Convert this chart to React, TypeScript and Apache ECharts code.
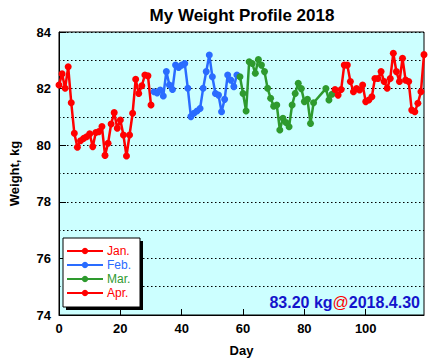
import React, { useEffect, useRef } from "react";
import * as echarts from "echarts";

const FONT = "'Liberation Sans', Arial, Helvetica, sans-serif";

const monthNames = ["Jan.", "Feb.", "Mar.", "Apr."];
const monthStartDays = [0, 31, 59, 90];
const monthColors = ["#ff0000", "#2a6cff", "#2e9a2e", "#ff0000"];

const janKg = [82.13, 82.52, 82.01, 82.77, 81.5, 80.42, 79.93, 80.16, 80.24, 80.3,
  80.4, 79.95, 80.45, 80.48, 80.66, 79.64, 80.07, 80.75, 81.15, 80.6,
  80.89, 80.36, 79.62, 80.36, 81.13, 82.33, 81.83, 82.1, 82.48, 82.45,
  81.42];
const febKg = [81.89, 81.85, 81.95, 81.74, 82.6, 82.13, 81.97, 82.83, 82.75, 82.83,
  82.89, 82.01, 81.01, 81.13, 81.21, 81.3, 82.01, 82.6, 83.19, 82.42,
  81.83, 81.77, 81.18, 81.62, 82.48, 82.3, 82.07, 82.48];
const marKg = [82.42, 81.83, 81.21, 82.95, 82.89, 82.54, 83.03, 82.83, 82.6, 82.01,
  81.66, 81.38, 81.42, 80.54, 80.95, 80.8, 80.65, 81.42, 81.83, 82.19,
  82.0, 81.54, 81.62, 80.77, 81.5, null, null, null, 82.0, 81.6,
  81.8];
const aprKg = [81.97, 81.77, 81.97, 82.83, 82.83, 82.25, 81.89, 82.0, 81.95, 82.13,
  81.54, 81.6, 81.71, 82.36, 82.36, 82.6, 82.25, 82.01, 82.36, 83.25,
  82.6, 82.25, 83.07, 82.3, 82.25, 81.24, 81.18, 81.48, 81.89, 83.2];

const monthValues = [janKg, febKg, marKg, aprKg];

const xTicks = { min: 0, max: 119, interval: 20 };
const yTicks = { min: 74, max: 84, interval: 2 };

const latestKg = "83.20 kg";
const latestDate = "2018.4.30";

export default function App() {
  const ref = useRef<HTMLDivElement>(null);
  useEffect(() => {
    if (!ref.current) return;
    const chart = echarts.init(ref.current, null, { renderer: "svg" });
    const series = monthValues.map((vals, m) => ({
      name: monthNames[m],
      type: "line",
      data: vals
        .map((v, i) => (v == null ? null : [monthStartDays[m] + i, v]))
        .filter((d) => d !== null),
      symbol: "circle",
      symbolSize: 7,
      showSymbol: true,
      lineStyle: { color: monthColors[m], width: 2.5 },
      itemStyle: { color: monthColors[m] },
      z: 3,
    }));
    chart.setOption({
      animation: false,
      backgroundColor: "#ffffff",
      textStyle: { fontFamily: FONT },
      title: {
        text: "My Weight Profile 2018",
        left: 237,
        top: 2,
        textAlign: "center",
        textStyle: { fontFamily: FONT, fontSize: 17, fontWeight: "bold", color: "#000" },
      },
      grid: {
        left: 55,
        right: 5,
        top: 32,
        bottom: 49,
        show: true,
        backgroundColor: "#ccffff",
        borderColor: "#000",
        borderWidth: 1,
      },
      xAxis: {
        type: "value",
        min: xTicks.min,
        max: xTicks.max,
        interval: xTicks.interval,
        name: "Day",
        nameLocation: "middle",
        nameGap: 29,
        nameTextStyle: { fontFamily: FONT, fontSize: 13, fontWeight: "bold", color: "#000" },
        axisLine: { show: true, lineStyle: { color: "#000", width: 1 } },
        axisTick: { show: true, inside: true, length: 6, lineStyle: { color: "#000" } },
        axisLabel: { fontFamily: FONT, fontSize: 13, fontWeight: "bold", color: "#000", margin: 7, showMaxLabel: false },
        splitLine: { show: false },
      },
      yAxis: {
        type: "value",
        min: yTicks.min,
        max: yTicks.max,
        interval: yTicks.interval,
        name: "Weight, kg",
        nameLocation: "middle",
        nameGap: 38,
        nameTextStyle: { fontFamily: FONT, fontSize: 13, fontWeight: "bold", color: "#000" },
        axisLine: { show: true, lineStyle: { color: "#000", width: 1 } },
        axisTick: { show: true, inside: true, length: 7, lineStyle: { color: "#000" } },
        axisLabel: { fontFamily: FONT, fontSize: 13, fontWeight: "bold", color: "#000", margin: 8 },
        splitLine: { show: true, lineStyle: { color: "#000", type: [1.5, 2.5], width: 1.2 } },
        minorTick: { show: false, splitNumber: 2 },
        minorSplitLine: { show: true, lineStyle: { color: "#000", type: [1.5, 2.5], width: 1.2 } },
      },
      legend: {
        orient: "vertical",
        left: 66,
        top: 244,
        padding: 0,
        itemWidth: 36,
        itemHeight: 8,
        itemGap: 0,
        z: 60,
        data: monthNames.map((n, m) => ({ name: n, textStyle: { color: monthColors[m] } })),
        textStyle: { fontFamily: FONT, fontSize: 12, lineHeight: 14, padding: [0, 0, 0, -1] },
      },
      graphic: [
        {
          type: "rect",
          z: 50,
          shape: { x: 66, y: 241, width: 77, height: 69 },
          style: { fill: "#000" },
        },
        {
          type: "rect",
          z: 51,
          shape: { x: 63, y: 238, width: 77, height: 69 },
          style: { fill: "#fff", stroke: "#000", lineWidth: 1 },
        },
        {
          type: "text",
          z: 52,
          right: 9,
          top: 294,
          style: {
            text: "{a|" + latestKg + "}{b|@}{a|" + latestDate + "}",
            rich: {
              a: { fontFamily: FONT, fontSize: 16, fontWeight: "bold", fill: "#1414cc", color: "#1414cc" },
              b: { fontFamily: FONT, fontSize: 16, fill: "#ff0000", color: "#ff0000" },
            },
          },
        },
      ],
      series,
    });
    return () => chart.dispose();
  }, []);
  return (
    <div
      ref={ref}
      style={{ position: "fixed", left: 0, top: 0, width: 429, height: 364 }}
    />
  );
}
